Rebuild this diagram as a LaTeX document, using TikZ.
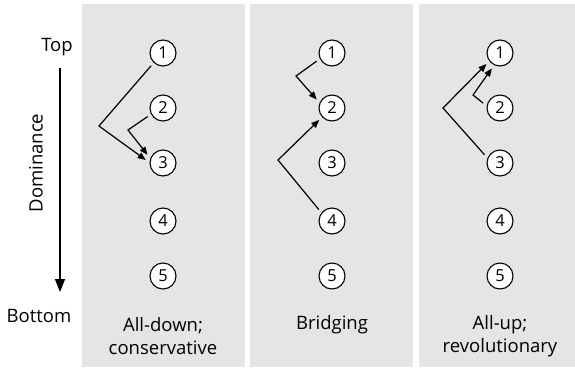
\documentclass[tikz,border=0pt]{standalone}
\usepackage{fontspec}
\setmainfont{Open Sans}
\usetikzlibrary{arrows.meta}

\begin{document}
\begin{tikzpicture}
[every node/.style={inner sep=0pt},
 rank/.style={circle, minimum size=26pt, outer sep=4.5pt, fill=white, line width=1.1pt, draw=black, font=\fontsize{16.5}{18}\selectfont},
 caption/.style={align=center, font=\fontsize{18.5}{22.5}\selectfont},
 axislabel/.style={font=\fontsize{18.5}{22.5}\selectfont},
 move/.style={line width=1.2pt, -{Triangle[length=8pt, width=6.5pt]}, color=black},
 panel/.style={fill=black!10, draw=none}]
\useasboundingbox (0pt,0pt) rectangle (575pt,-367pt);
% the three panels
\fill [panel] (82pt,-4pt) rectangle (245pt,-367pt);
\fill [panel] (250pt,-4pt) rectangle (413pt,-367pt);
\fill [panel] (419pt,-4pt) rectangle (575pt,-367pt);
% dominance axis
\node (top) [axislabel] at (57pt, -47pt) {Top};
\node (bottom) [axislabel] at (39pt, -316pt) {Bottom};
\node (dom) [axislabel, rotate=90] at (36pt, -163pt) {Dominance};
\coordinate (axistop) at (60pt, -68pt);
\coordinate (axisend) at (60pt, -292pt);
\draw [line width=1.4pt, -{Triangle[length=13pt, width=10pt]}] (axistop) to (axisend);
% ranks
\foreach \i/\y in {1/-53, 2/-108, 3/-163, 4/-221, 5/-276} {
  \node (a\i) [rank] at (163pt, \y pt) {\i};
  \node (b\i) [rank] at (332pt, \y pt) {\i};
  \node (c\i) [rank] at (500pt, \y pt) {\i};
}
% all-down
\draw [move] (a1.227) -- (99pt,-126pt) -- (a3.170);
\draw [move] (a2.209) -- (128pt,-130pt) -- (a3.152);
% bridging
\draw [move] (b1.208) -- (296pt,-76pt) -- (b2.151);
\draw [move] (b4.139) -- (278pt,-160pt) -- (b2.223);
% all-up
\draw [move] (c3.152) -- (443pt,-108pt) -- (c1.219);
\draw [move] (c2.164) -- (473pt,-95pt) -- (c1.242);
% captions
\node (downcap) [caption] at (163pt, -336pt) {All-down;\\conservative};
\node (bridgecap) [caption] at (332pt, -325pt) {Bridging};
\node (upcap) [caption] at (500pt, -336pt) {All-up;\\revolutionary};
\end{tikzpicture}
\end{document}
